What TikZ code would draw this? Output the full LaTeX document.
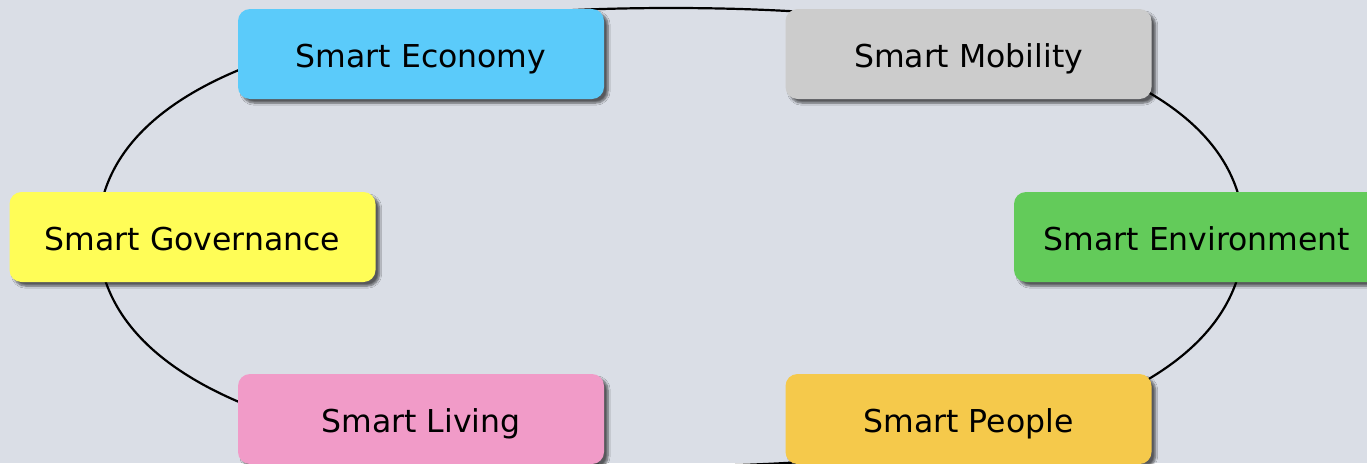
\documentclass[tikz,border=0pt]{standalone}
\usepackage{fontspec}
\setmainfont{DejaVu Sans}
\usetikzlibrary{shadows.blur}
\definecolor{bg}{HTML}{DADEE6}
\definecolor{ceco}{HTML}{5BCBFA}
\definecolor{cmob}{HTML}{CCCCCC}
\definecolor{cgov}{HTML}{FFFD57}
\definecolor{cenv}{HTML}{63CB5A}
\definecolor{cliv}{HTML}{F19BC8}
\definecolor{cpeo}{HTML}{F5C94B}
\tikzset{
  card/.style={rectangle, rounded corners=12pt, minimum width=366pt, minimum height=90pt,
    inner sep=0pt, text height=26pt, text depth=0pt, text=black,
    font=\fontsize{31.5}{36}\selectfont,
    blur shadow={shadow xshift=4pt, shadow yshift=-4pt, shadow blur steps=6, shadow opacity=60}},
  ring/.style={draw=black, line width=2.2pt}
}
\begin{document}
\begin{tikzpicture}[x=1pt,y=-1pt]
\useasboundingbox (0,0) rectangle (1367,463);
\clip (0,0) rectangle (1367,463);
\fill[bg] (0,0) rectangle (1367,463);
% ring behind the cards
\coordinate (T) at (671,8);
\coordinate (R) at (1244,235);
\coordinate (B) at (671,466);
\coordinate (L) at (98,235);
\draw[ring] (T) .. controls (1038,8) and (1244,89) .. (R)
  .. controls (1244,381) and (1038,466) .. (B)
  .. controls (304,466) and (98,381) .. (L)
  .. controls (98,89) and (304,8) .. (T) -- cycle;
% cards
\node[card, fill=ceco] (eco) at (421,54) {Smart Economy};
\node[card, fill=cmob] (mob) at (968.5,54) {Smart Mobility};
\node[card, fill=cgov] (gov) at (192.5,237) {Smart Governance};
\node[card, fill=cenv] (env) at (1197,237) {Smart Environment};
\node[card, fill=cliv] (liv) at (421,419) {Smart Living};
\node[card, fill=cpeo] (peo) at (968.5,419) {Smart People};
\end{tikzpicture}
\end{document}
